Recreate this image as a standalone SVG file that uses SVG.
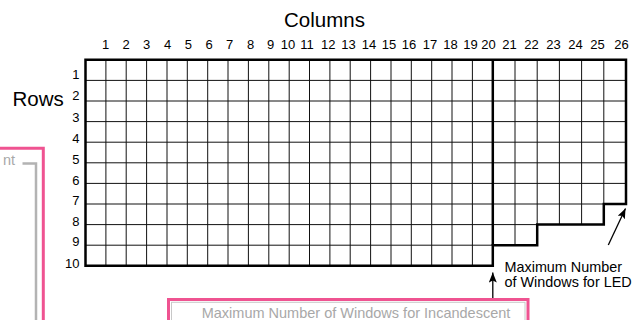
<svg xmlns="http://www.w3.org/2000/svg" width="643" height="320" viewBox="0 0 643 320">
<defs>
<style>
text{font-family:"Liberation Sans",Arial,Helvetica,sans-serif;fill:#000}
.title{font-size:20.5px}
.num{font-size:13px}
.rown{font-size:13px;text-anchor:end}
.col{text-anchor:middle}
.ann{font-size:14.4px}
.grey{fill:#a8a8a8}
.thin{stroke:#111;stroke-width:1;fill:none}
.thick{stroke:#000;stroke-width:2.5;fill:none;stroke-linejoin:miter}
.pink{stroke:#ef5391;stroke-width:3;fill:none}
.gline{stroke:#b3b3b3;stroke-width:2.5;fill:none}
.arrow{stroke:#000;stroke-width:1.3;fill:none}
</style>
<marker id="ah" markerUnits="userSpaceOnUse" markerWidth="12" markerHeight="10" refX="10" refY="4" orient="auto">
<path d="M0,0 L10,4 L0,8 L2,4 Z" fill="#000"/>
</marker>
</defs>
<rect width="643" height="320" fill="#fff"/>

<g id="titles">
<text class="title" x="324.5" y="26.5" text-anchor="middle">Columns</text>
<text class="title" x="12.5" y="106">Rows</text>
</g>

<g id="column-labels" class="num">
<text class="col" x="105.5" y="49">1</text>
<text class="col" x="126" y="49">2</text>
<text class="col" x="146.7" y="49">3</text>
<text class="col" x="167.5" y="49">4</text>
<text class="col" x="188.3" y="49">5</text>
<text class="col" x="209" y="49">6</text>
<text class="col" x="229.5" y="49">7</text>
<text class="col" x="250.5" y="49">8</text>
<text class="col" x="270.7" y="49">9</text>
<text class="col" x="288" y="49">10</text>
<text class="col" x="307" y="49">11</text>
<text class="col" x="328.3" y="49">12</text>
<text class="col" x="348.5" y="49">13</text>
<text class="col" x="369" y="49">14</text>
<text class="col" x="389" y="49">15</text>
<text class="col" x="409" y="49">16</text>
<text class="col" x="430" y="49">17</text>
<text class="col" x="450.5" y="49">18</text>
<text class="col" x="470.5" y="49">19</text>
<text class="col" x="488.5" y="49">20</text>
<text class="col" x="509.5" y="49">21</text>
<text class="col" x="531.5" y="49">22</text>
<text class="col" x="553.5" y="49">23</text>
<text class="col" x="575.5" y="49">24</text>
<text class="col" x="597.5" y="49">25</text>
<text class="col" x="621.5" y="49">26</text>
</g>

<g id="row-labels">
<text class="rown" x="79.5" y="79">1</text>
<text class="rown" x="79.5" y="100">2</text>
<text class="rown" x="79.5" y="121.5">3</text>
<text class="rown" x="79.5" y="142.5">4</text>
<text class="rown" x="79.5" y="163.5">5</text>
<text class="rown" x="79.5" y="184.5">6</text>
<text class="rown" x="79.5" y="205">7</text>
<text class="rown" x="79.5" y="225.5">8</text>
<text class="rown" x="79.5" y="246">9</text>
<text class="rown" x="79.5" y="267.5">10</text>
</g>

<g id="grid">
<path class="thin" d="M85.5,80.4H626M85.5,101H626M85.5,121.6H626M85.5,142.2H626M85.5,162.8H626M85.5,183.4H626M85.5,204H603.8M85.5,224.6H537.2M85.5,245.2H492.8"/>
<path class="thin" d="M105.9,59.8V265.8M126.2,59.8V265.8M146.6,59.8V265.8M167,59.8V265.8M187.3,59.8V265.8M207.7,59.8V265.8M228,59.8V265.8M248.4,59.8V265.8M268.8,59.8V265.8M289.2,59.8V265.8M309.5,59.8V265.8M329.9,59.8V265.8M350.2,59.8V265.8M370.6,59.8V265.8M391,59.8V265.8M411.3,59.8V265.8M431.7,59.8V265.8M452,59.8V265.8M472.4,59.8V265.8M515,59.8V245.2M537.2,59.8V224.6M559.4,59.8V224.6M581.6,59.8V224.6M603.8,59.8V204"/>
<path class="thick" d="M85.5,59.8H626V204H603.8V224.6H537.2V245.2H492.8V265.8H85.5Z"/>
<path class="thick" d="M492.8,59.8V245.2"/>
</g>

<g id="incandescent-box">
<path class="gline" d="M22.5,163.5H36V322"/>
<path class="pink" d="M-2,148.3H43.3V322"/>
<text class="ann grey" x="15" y="165" text-anchor="end" style="font-size:14.5px">nt</text>
<rect x="171.5" y="302.3" width="353.5" height="40" fill="none" stroke="#c8c8c8" stroke-width="1"/>
<rect class="pink" x="168.5" y="299.5" width="359.5" height="40"/>
<text class="ann grey" x="201.7" y="317.5" style="font-size:14.5px">Maximum Number of Windows for Incandescent</text>
</g>

<g id="led-label">
<text class="ann" x="504.5" y="271.5">Maximum Number</text>
<text class="ann" x="504.5" y="286.5">of Windows for LED</text>
</g>

<g id="connectors">
<path class="arrow" d="M608.3,245L625.5,208.5" marker-end="url(#ah)"/>
<path class="arrow" d="M492.8,298V272.5" marker-end="url(#ah)"/>
</g>
</svg>
